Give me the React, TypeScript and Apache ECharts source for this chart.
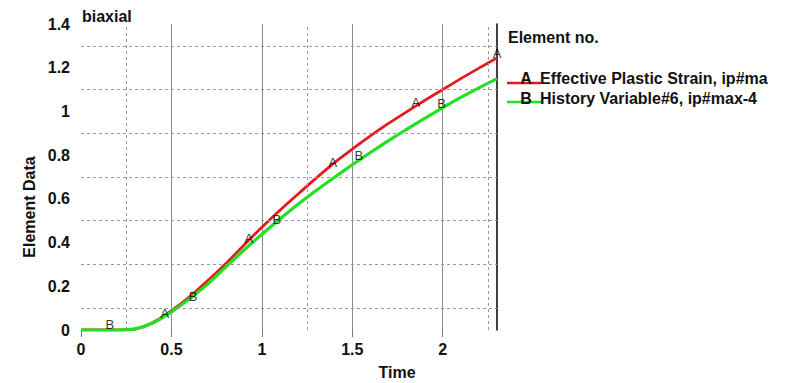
import React, { useEffect, useRef } from "react";
import * as echarts from "echarts";

const timeValues = [0, 0.1, 0.2, 0.3, 0.4, 0.5, 0.6, 0.7, 0.8, 0.9, 1.0, 1.1, 1.2, 1.3, 1.4, 1.5, 1.6, 1.7, 1.8, 1.9, 2.0, 2.1, 2.2, 2.3];
const plasticStrain = [0, 0, 0, 0.004, 0.035, 0.088, 0.152, 0.225, 0.303, 0.388, 0.47, 0.548, 0.622, 0.695, 0.765, 0.828, 0.888, 0.945, 0.998, 1.05, 1.1, 1.15, 1.198, 1.245];
const historyVar6 = [0, 0, 0, 0.005, 0.033, 0.083, 0.143, 0.21, 0.288, 0.365, 0.438, 0.508, 0.575, 0.638, 0.698, 0.756, 0.812, 0.866, 0.918, 0.968, 1.017, 1.064, 1.108, 1.15];

const markersA = [[0.464, 0.077], [0.928, 0.418], [1.392, 0.768], [1.851, 1.041], [2.3, 1.264]];
const markersB = [[0.16, 0.023], [0.619, 0.155], [1.083, 0.505], [1.536, 0.8], [1.994, 1.036]];

const dashedX = [0.25, 1.25, 2.25];
const dashedY = [0.1, 0.3, 0.5, 0.7, 0.9, 1.1, 1.3];

const legendNames = ["Effective Plastic Strain, ip#ma", "History Variable#6, ip#max-4"];
const legendLetters = ["A", "B"];
const colors = ["#e51a1a", "#22e022"];

const FONT = "Arial, 'Liberation Sans', sans-serif";

export default function App() {
  const ref = useRef<HTMLDivElement>(null);
  useEffect(() => {
    if (!ref.current) return;
    const chart = echarts.init(ref.current, null, { renderer: "svg" });
    const dashStyle = { color: "#9a9a9a", type: [3, 3] as any, width: 1 };
    chart.setOption({
      animation: false,
      backgroundColor: "#ffffff",
      grid: { left: 81, right: 296, top: 24, bottom: 53 },
      xAxis: {
        type: "value",
        min: 0,
        max: 2.3,
        interval: 0.5,
        axisLine: { show: false },
        axisTick: { show: true, length: 7, lineStyle: { color: "#777" } },
        splitLine: { show: true, showMinLine: false, showMaxLine: false, lineStyle: { color: "#8a8a8a", width: 1 } },
        axisLabel: {
          margin: 11,
          fontFamily: FONT,
          fontSize: 16,
          fontWeight: "bold",
          color: "#111",
          showMaxLabel: false,
          formatter: (v: number) => (Math.abs(v / 0.5 - Math.round(v / 0.5)) < 1e-6 ? String(v) : ""),
        },
      },
      yAxis: [
        {
          type: "value",
          min: 0,
          max: 1.4,
          interval: 0.2,
          axisLine: { show: false },
          axisTick: { show: false },
          splitLine: { show: false },
          axisLabel: {
            margin: 11,
            fontFamily: FONT,
            fontSize: 16,
            fontWeight: "bold",
            color: "#111",
            formatter: (v: number) => String(Math.round(v * 10) / 10),
          },
        },
        {
          type: "value",
          position: "right",
          min: 0,
          max: 1.4,
          axisLine: { show: true, lineStyle: { color: "#000", width: 1.5 } },
          axisTick: { show: false },
          axisLabel: { show: false },
          splitLine: { show: false },
        },
      ],
      series: [
        {
          type: "line",
          name: legendNames[0],
          data: timeValues.map((t, i) => [t, plasticStrain[i]]),
          showSymbol: false,
          smooth: 0.25,
          lineStyle: { color: colors[0], width: 2.8 },
          z: 3,
          markLine: {
            silent: true,
            symbol: "none",
            label: { show: false },
            lineStyle: dashStyle,
            data: [
              ...dashedX.map((x) => ({ xAxis: x })),
              ...dashedY.map((y) => ({ yAxis: y })),
            ],
          },
        },
        {
          type: "line",
          name: legendNames[1],
          data: timeValues.map((t, i) => [t, historyVar6[i]]),
          showSymbol: false,
          smooth: 0.25,
          lineStyle: { color: colors[1], width: 3.2 },
          z: 4,
        },
        ...[markersA, markersB].map((pts, k) => ({
          type: "scatter",
          data: pts,
          symbol: "circle",
          symbolSize: 1,
          clip: false,
          z: 5,
          itemStyle: { color: "rgba(0,0,0,0)" },
          label: {
            show: true,
            position: "inside",
            formatter: legendLetters[k],
            fontFamily: FONT,
            fontSize: 13,
            color: "#000",
          },
        })),
      ],
      graphic: [
        { type: "text", left: 82, top: 8, style: { text: "biaxial", font: `bold 16px ${FONT}`, fill: "#111" } },
        { type: "text", x: 29, y: 207, rotation: Math.PI / 2, style: { text: "Element Data", font: `bold 16px ${FONT}`, fill: "#111", align: "center", verticalAlign: "middle" } },
        { type: "text", x: 397, y: 372, style: { text: "Time", font: `bold 16px ${FONT}`, fill: "#111", align: "center", verticalAlign: "middle" } },
        { type: "text", x: 508, y: 37, style: { text: "Element no.", font: `bold 16px ${FONT}`, fill: "#111", verticalAlign: "middle" } },
        ...legendNames.flatMap((name, i) => {
          const ty = 78 + i * 20;
          const ly = 83 + i * 19;
          return [
            { type: "line", shape: { x1: 507, y1: ly, x2: 541, y2: ly }, style: { stroke: colors[i], lineWidth: 2.5 } },
            { type: "text", x: 526, y: ty, style: { text: legendLetters[i], font: `bold 16px ${FONT}`, fill: "#111", align: "center", verticalAlign: "middle" } },
            { type: "text", x: 540, y: ty, style: { text: name, font: `bold 16px ${FONT}`, fill: "#111", verticalAlign: "middle" } },
          ];
        }),
      ],
    });
    return () => chart.dispose();
  }, []);
  return <div ref={ref} style={{ position: "fixed", left: 0, top: 0, width: 793, height: 383 }} />;
}
